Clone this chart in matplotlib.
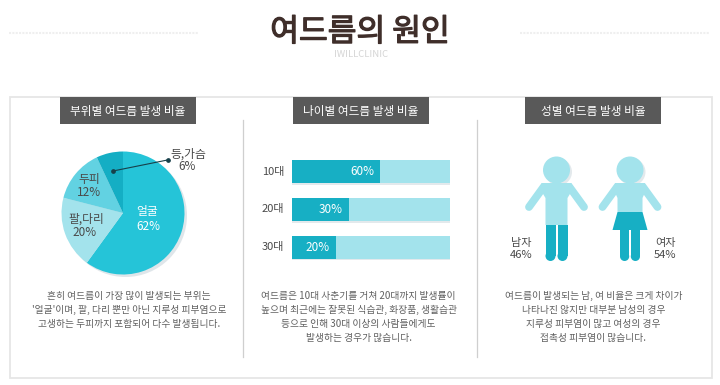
import matplotlib
matplotlib.use("Agg")
import matplotlib.pyplot as plt
import matplotlib.patheffects as pe
from matplotlib.patches import Circle, Polygon, Rectangle

plt.rcParams['font.family'] = ['Noto Sans CJK KR', 'DejaVu Sans']

# ---- data ----
title = "여드름의 원인"
subtitle = "IWILLCLINIC"
panel_titles = ["부위별 여드름 발생 비율", "나이별 여드름 발생 비율", "성별 여드름 발생 비율"]

pie_names = ["얼굴", "팔,다리", "두피", "등,가슴"]
pie_labels = ["62%", "20%", "12%", "6%"]
pie_shares = [60, 19, 14, 7]   # shares as drawn in the picture
pie_colors = ["#25c4d8", "#a3e3ec", "#62d2e2", "#14aec4"]

age_names = ["10대", "20대", "30대"]
age_labels = ["60%", "30%", "20%"]
age_fill = [56, 36, 28]        # bar lengths as drawn in the picture

gender_names = ["남자", "여자"]
gender_labels = ["46%", "54%"]

captions = [
    ["흔히 여드름이 가장 많이 발생되는 부위는", "'얼굴'이며, 팔, 다리 뿐만 아닌 지루성 피부염으로", "고생하는 두피까지 포함되어 다수 발생됩니다."],
    ["여드름은 10대 사춘기를 거쳐 20대까지 발생률이", "높으며 최근에는 잘못된 식습관, 화장품, 생활습관", "등으로 인해 30대 이상의 사람들에게도", "발생하는 경우가 많습니다."],
    ["여드름이 발생되는 남, 여 비율은 크게 차이가", "나타나진 않지만 대부분 남성의 경우", "지루성 피부염이 많고 여성의 경우", "접촉성 피부염이 많습니다."],
]

LIGHT = "#a3e3ec"
DARK = "#17afc4"
SHADOW = "#e3e9ec"
TXT = "#4a4a4a"
W, H = 720, 385

fig = plt.figure(figsize=(W / 100, H / 100), dpi=100, facecolor="white")
bg = fig.add_axes([0, 0, 1, 1])
bg.set_xlim(0, W)
bg.set_ylim(H, 0)
bg.axis("off")


def px_axes(x0, y0, x1, y1):
    return fig.add_axes([x0 / W, 1 - y1 / H, (x1 - x0) / W, (y1 - y0) / H])


# header
t = bg.text(360, 32, title, ha="center", va="center", fontsize=22.5, color="#3f2e2a")
t.set_path_effects([pe.withStroke(linewidth=0.9, foreground="#3f2e2a")])
bg.text(361, 54.5, subtitle, ha="center", va="center", fontsize=6.8, color="#d4d4d4")
for a, b in [(9, 199), (520, 710)]:
    bg.plot([a, b], [32.5, 32.5], color="#efefef", lw=1.5, ls=(0, (1, 0.6)))

# frame and dividers
bg.add_patch(Rectangle((10, 97), 702, 281, fill=False, ec="#e6e6e6", lw=1.3))
for x in (243, 477):
    bg.plot([x, x], [120, 357], color="#cfcfcf", lw=0.9)

# panel title boxes
for cx, t in zip((128, 360.5, 593), panel_titles):
    bg.add_patch(Rectangle((cx - 68, 97), 136, 27, fc="#595959", ec="none", zorder=3))
    bg.text(cx, 111, t, ha="center", va="center", fontsize=8.4, color="white", zorder=4)

# captions
for cx, lines in zip((129, 358.6, 593.5), captions):
    for i, line in enumerate(lines):
        bg.text(cx, 296 + i * 14, line, ha="center", va="center", fontsize=7, color="#606060")

# pie
cx, cy, r = 123, 213, 61.5
bg.add_patch(Circle((cx + 2.5, cy + 2.5), r, fc="#dfe6ea", ec="none"))
pie_ax = px_axes(cx - r, cy - r, cx + r, cy + r)
pie_ax.pie(pie_shares, colors=pie_colors, startangle=90, counterclock=False, radius=1.0,
           wedgeprops=dict(linewidth=0))
pie_ax.set_xlim(-1, 1)
pie_ax.set_ylim(-1, 1)
pie_ax.patch.set_alpha(0)

top = fig.add_axes([0, 0, 1, 1])
top.set_xlim(0, W)
top.set_ylim(H, 0)
top.axis("off")
top.patch.set_alpha(0)

top.text(147, 212, pie_names[0], ha="center", va="center", fontsize=8.5, color="white")
top.text(148, 226, pie_labels[0], ha="center", va="center", fontsize=8.5, color="white")
top.text(86, 219, pie_names[1], ha="center", va="center", fontsize=8.5, color=TXT)
top.text(85, 232, pie_labels[1], ha="center", va="center", fontsize=8.5, color=TXT)
top.text(89, 180, pie_names[2], ha="center", va="center", fontsize=8.5, color=TXT)
top.text(89, 192, pie_labels[2], ha="center", va="center", fontsize=8.5, color=TXT)
top.text(188, 154, pie_names[3], ha="center", va="center", fontsize=8.5, color=TXT)
top.text(187, 167, pie_labels[3], ha="center", va="center", fontsize=8.5, color=TXT)
top.plot([113, 167.5], [171, 160], color="#17404a", lw=0.8, marker="o", ms=2.4)

# bars
bar_ax = px_axes(292, 152.8, 450, 265.9)
ypos = list(range(len(age_names)))
bar_ax.barh([y + 0.05 for y in ypos], [100] * 3, height=0.61, color=SHADOW)
bar_ax.barh(ypos, [100] * 3, height=0.61, color=LIGHT)
bar_ax.barh(ypos, age_fill, height=0.61, color=DARK)
bar_ax.set_xlim(0, 100)
bar_ax.set_ylim(2.5, -0.5)
bar_ax.axis("off")
bar_ax.patch.set_alpha(0)
for y, v, lab, name in zip(ypos, age_fill, age_labels, age_names):
    bar_ax.text(v - 4, y, lab, ha="right", va="center", fontsize=8.5, color="white")
    bar_ax.text(-5, y, name, ha="right", va="center", fontsize=8, color=TXT, clip_on=False)


# figures
def arm(ax, x0, y0, x1, y1):
    ax.plot([x0, x1], [y0, y1], color=LIGHT, lw=5.6, solid_capstyle="round", zorder=2)


def leg(ax, x0, x1, y0, y1):
    rad = (x1 - x0) / 2
    ax.add_patch(Rectangle((x0, y0), x1 - x0, y1 - y0 - rad, fc=DARK, ec="none", zorder=3))
    ax.add_patch(Circle(((x0 + x1) / 2, y1 - rad), rad, fc=DARK, ec="none", zorder=3))


# man
c = 556.5
top.add_patch(Circle((c + 2, 172), 13.5, fc=SHADOW, ec="none", zorder=1))
top.add_patch(Circle((c, 170), 13.5, fc=LIGHT, ec="none", zorder=2))
top.add_patch(Polygon([(c - 15, 183), (c + 15, 183), (c + 17, 188), (c + 11, 198), (c + 11, 225),
                       (c - 11, 225), (c - 11, 198), (c - 17, 188)], fc=LIGHT, ec="none", zorder=2))
arm(top, c - 13, 187, c - 27.5, 207)
arm(top, c + 13, 187, c + 27.5, 207)
leg(top, c - 11, c - 1, 225, 261)
leg(top, c + 1, c + 11, 225, 261)

# woman
c = 630
top.add_patch(Circle((c + 2, 172), 13.5, fc=SHADOW, ec="none", zorder=1))
top.add_patch(Circle((c, 170), 13.5, fc=LIGHT, ec="none", zorder=2))
top.add_patch(Polygon([(c - 15, 183), (c + 15, 183), (c + 17, 188), (c + 12.5, 198), (c + 12.5, 212),
                       (c - 12.5, 212), (c - 12.5, 198), (c - 17, 188)], fc=LIGHT, ec="none", zorder=2))
arm(top, c - 13, 187, c - 27.5, 207)
arm(top, c + 13, 187, c + 27.5, 207)
top.add_patch(Polygon([(c - 12.5, 212), (c + 12.5, 212), (c + 17.5, 230), (c - 17.5, 230)], fc=DARK, ec="none", zorder=4))
leg(top, c - 10, c - 0.8, 228, 261)
leg(top, c + 0.8, c + 10, 228, 261)

top.text(521.5, 243, gender_names[0], ha="center", va="center", fontsize=8, color=TXT)
top.text(521.5, 255, gender_labels[0], ha="center", va="center", fontsize=8, color=TXT)
top.text(665, 243, gender_names[1], ha="center", va="center", fontsize=8, color=TXT)
top.text(665, 255, gender_labels[1], ha="center", va="center", fontsize=8, color=TXT)

fig.savefig("out.png", dpi=100, facecolor="white")
